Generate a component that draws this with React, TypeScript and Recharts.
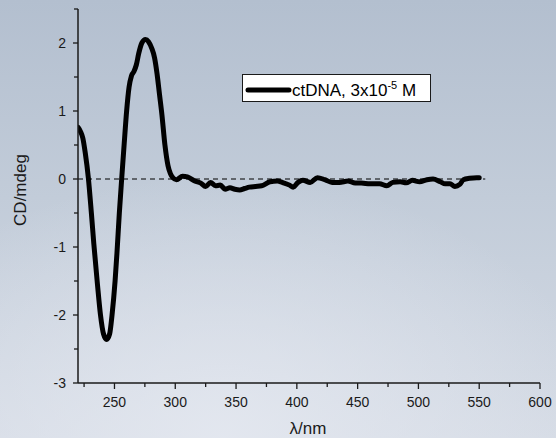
import { LineChart, Line, XAxis, YAxis, ReferenceLine } from "recharts";

// wavelength (nm) and CD signal (mdeg)
const wavelengths = [
  220, 222, 224, 226, 228.5, 231, 233, 236, 238.5, 241, 243.5, 246, 248, 250.5,
  252, 254, 256, 258, 260, 262, 264, 266, 268, 270, 272.5, 275.5, 278, 280.5,
  283, 285, 287, 289, 291.5, 294, 296, 298, 301, 306, 310, 316, 321, 325, 329,
  333, 337, 341, 345, 349, 353, 357, 361, 366, 371, 378, 384, 388, 394, 397,
  401, 405, 411, 417, 423, 429, 435, 442, 448, 453, 460, 468, 474, 479, 485,
  490, 495, 501, 507, 512, 518, 522, 526, 530, 534, 537, 542, 548, 550,
];
const cdValues = [
  0.76, 0.7, 0.6, 0.38, 0.02, -0.5, -0.95, -1.55, -2.0, -2.28, -2.36, -2.28,
  -2.0, -1.5, -1.1, -0.5, 0.02, 0.52, 1.0, 1.35, 1.52, 1.58, 1.68, 1.85, 2.0,
  2.05, 2.02, 1.93, 1.78, 1.55, 1.25, 0.95, 0.5, 0.2, 0.08, 0.02, -0.01, 0.04,
  0.03, -0.03, -0.06, -0.11, -0.05, -0.1, -0.09, -0.15, -0.13, -0.15, -0.16,
  -0.14, -0.12, -0.11, -0.1, -0.04, -0.03, -0.05, -0.09, -0.12, -0.05, -0.02,
  -0.05, 0.02, -0.01, -0.05, -0.05, -0.03, -0.06, -0.06, -0.07, -0.07, -0.1,
  -0.05, -0.04, -0.055, -0.02, -0.04, -0.01, 0.0, -0.04, -0.07, -0.07, -0.11,
  -0.08, -0.01, 0.01, 0.02, 0.02,
];

const xTicks = [225, 250, 275, 300, 325, 350, 375, 400, 425, 450, 475, 500, 525, 550, 575, 600];
const yTicks = [-3, -2.5, -2, -1.5, -1, -0.5, 0, 0.5, 1, 1.5, 2, 2.5];

const seriesName = "ctDNA, 3x10";

const data = wavelengths.map((w, i) => ({ wl: w, cd: cdValues[i] }));

const FONT = "'Liberation Sans', Arial, sans-serif";
const INK = "#1a1a1a";

function XTick(props: any) {
  const { x, y, payload } = props;
  const major = payload.value % 50 === 0;
  return (
    <g>
      <line x1={x} x2={x} y1={y} y2={y + (major ? 6 : 4)} stroke={INK} strokeWidth={1.3} />
      {major && (
        <text x={x} y={y + 24} textAnchor="middle" fontSize={14} fontFamily={FONT} fill={INK}>
          {payload.value}
        </text>
      )}
    </g>
  );
}

function YTick(props: any) {
  const { x, y, payload } = props;
  const major = Number.isInteger(payload.value);
  return (
    <g>
      <line x1={x - (major ? 5 : 4)} x2={x} y1={y} y2={y} stroke={INK} strokeWidth={1.3} />
      {major && (
        <text x={x - 12} y={y + 5} textAnchor="end" fontSize={14} fontFamily={FONT} fill={INK}>
          {payload.value}
        </text>
      )}
    </g>
  );
}

function LegendBox() {
  return (
    <svg width={190} height={28} style={{ display: "block" }}>
      <rect x={0.5} y={0.5} width={188} height={27} fill="#ffffff" stroke={INK} strokeWidth={1} />
      <line x1={6} x2={47} y1={16} y2={16} stroke="#000" strokeWidth={5} strokeLinecap="round" />
      <text x={50} y={22} fontSize={17} fontFamily={FONT} fill="#000">
        {seriesName}
        <tspan dy={-7} fontSize={11}>-5</tspan>
        <tspan dy={7}> M</tspan>
      </text>
    </svg>
  );
}

export default function App() {
  return (
    <div
      style={{
        position: "absolute",
        left: 0,
        top: 0,
        width: 556,
        height: 438,
        background:
          "radial-gradient(ellipse 70% 60% at 40% 100%, rgba(228,232,240,0.9) 0%, rgba(228,232,240,0) 100%), linear-gradient(to bottom, #b3bfcf 0%, #c2ccd9 45%, #d5dbe5 100%)",
      }}
    >
      <LineChart width={556} height={438} data={data} margin={{ top: 9, right: 16, bottom: 25, left: 38 }}>
        <XAxis
          dataKey="wl"
          type="number"
          domain={[220, 600]}
          ticks={xTicks}
          tick={<XTick />}
          tickLine={false}
          tickSize={0}
          tickMargin={0}
          height={30}
          axisLine={{ stroke: INK, strokeWidth: 1.5 }}
          allowDataOverflow
          interval={0}
        />
        <YAxis
          type="number"
          domain={[-3, 2.5]}
          ticks={yTicks}
          tick={<YTick />}
          tickLine={false}
          tickSize={0}
          tickMargin={0}
          width={40}
          axisLine={{ stroke: INK, strokeWidth: 1.5 }}
          allowDataOverflow
          interval={0}
        />
        <ReferenceLine
          segment={[
            { x: 220, y: 0 },
            { x: 555, y: 0 },
          ]}
          stroke="#000"
          strokeWidth={1}
          strokeDasharray="5 4"
        />
        <Line
          type="monotone"
          dataKey="cd"
          stroke="#000"
          strokeWidth={5}
          dot={false}
          strokeLinejoin="round"
          strokeLinecap="round"
          isAnimationActive={false}
        />
      </LineChart>
      <div style={{ position: "absolute", left: 242, top: 74 }}>
        <LegendBox />
      </div>
      <div
        style={{
          position: "absolute",
          left: 21,
          top: 190,
          transform: "translate(-50%, -50%) rotate(-90deg)",
          fontFamily: FONT,
          fontSize: 17,
          color: INK,
          whiteSpace: "nowrap",
        }}
      >
        CD/mdeg
      </div>
      <div
        style={{
          position: "absolute",
          left: 308,
          top: 429,
          transform: "translate(-50%, -50%)",
          fontFamily: FONT,
          fontSize: 17,
          color: INK,
          whiteSpace: "nowrap",
        }}
      >
        λ/nm
      </div>
    </div>
  );
}
